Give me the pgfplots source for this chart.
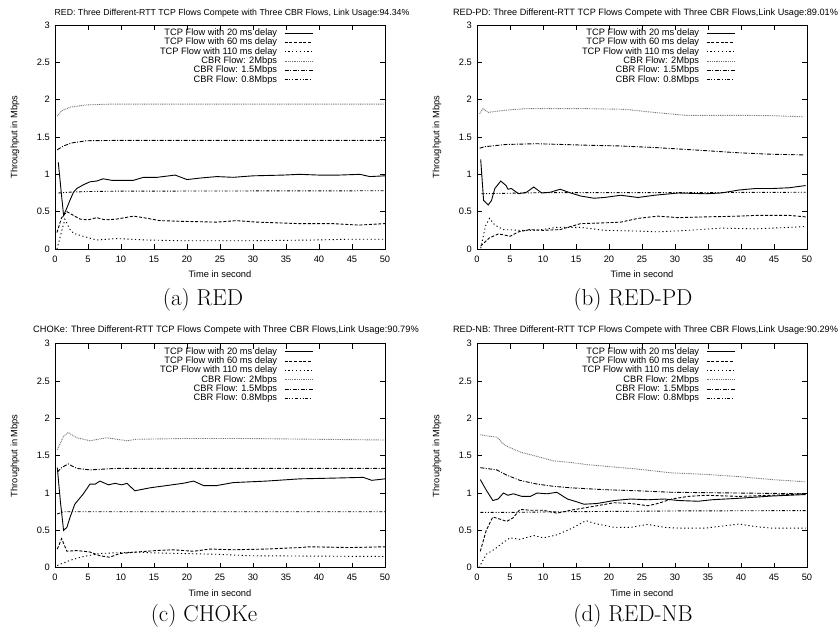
\documentclass[border=0pt]{standalone}
\usepackage{fontspec}
\usepackage{pgfplots}
\pgfplotsset{compat=1.18}
\newfontfamily\arial{Liberation Sans}
\newcommand{\sfz}[1]{\arial\fontsize{#1}{#1}\selectfont}
\pgfplotsset{
  tcpA/.style={black, line width=0.9pt, solid},
  tcpB/.style={black, line width=0.9pt, dash pattern=on 3pt off 1.7pt},
  tcpC/.style={black, line width=0.9pt, dash pattern=on 1.2pt off 2.6pt},
  cbrA/.style={black!55, line width=0.9pt, dash pattern=on 0.9pt off 0.9pt},
  cbrB/.style={black, line width=0.9pt, dash pattern=on 4pt off 1.5pt on 1pt off 1.5pt},
  cbrC/.style={black, line width=0.9pt, dash pattern=on 3pt off 1.8pt on 1pt off 1.8pt on 1pt off 1.8pt},
  panel/.style={
    scale only axis, width=330pt, height=224pt,
    xmin=0, xmax=50, ymin=0, ymax=3,
    xtick={0,5,10,15,20,25,30,35,40,45,50}, ytick={0,0.5,1,1.5,2,2.5,3},
    tick align=inside, tick pos=both, major tick length=5pt,
    axis line style={line width=0.8pt, black}, every tick/.style={line width=0.6pt, black},
    /pgf/number format/assume math mode=true,
    xticklabel={\pgfmathprintnumber{\tick}},
    yticklabel={\pgfmathprintnumber{\tick}},
    ticklabel style={font=\sfz{9.3}, inner sep=0pt},
    yticklabel style={xshift=-5pt},
    xticklabel style={yshift=-6.5pt},
    xlabel={Time in second}, ylabel={Throughput in Mbps},
    every axis x label/.style={at={(axis description cs:0.5,0)}, anchor=center, yshift=-25pt, font=\sfz{9.3}},
    every axis y label/.style={at={(axis description cs:0,0.5)}, anchor=center, xshift=-40pt, rotate=90, font=\sfz{9.3}},
    no markers,
    legend cell align=right, legend plot pos=right,
    legend image code/.code={\draw[##1] (0pt,0pt) -- (28pt,0pt);},
    legend style={at={(0.782,1)}, anchor=north east, yshift=-4pt, draw=none, fill=none,
      inner sep=0pt, outer sep=0pt, font=\sfz{9.3}, row sep=1pt, column sep=7pt,
      nodes={inner sep=0pt, text height=6.6pt, text depth=1.7pt}},
  }
}
\newcommand{\legs}{\legend{TCP Flow with 20 ms delay,TCP Flow with 60 ms delay,TCP Flow with 110 ms delay,CBR Flow: 2Mbps,CBR Flow: 1.5Mbps,CBR Flow: 0.8Mbps}}
\begin{document}
\begin{tikzpicture}
\path[use as bounding box] (0,0) rectangle (839pt,633pt);
% (a) RED
\begin{axis}[panel, at={(55pt,384pt)}, anchor=south west]
\addplot[tcpA] coordinates {(0.5,1.16) (0.9,0.8) (1.3,0.45) (1.8,0.55) (2.3,0.66) (2.8,0.76) (3.3,0.81) (4.3,0.86) (5.3,0.90) (6.3,0.91) (7.3,0.94) (8.6,0.92) (10,0.92) (11.9,0.92) (13.4,0.96) (15.5,0.96) (18.2,0.99) (20,0.93) (22,0.95) (24.5,0.97) (27,0.96) (30,0.98) (34.6,0.99) (37,1.0) (40,0.99) (43,0.99) (46.2,1.00) (47.7,0.97) (50,0.98)};
\addplot[tcpB] coordinates {(0.3,0.22) (1,0.42) (1.8,0.5) (2.8,0.45) (3.8,0.40) (5,0.39) (6.3,0.42) (7.6,0.39) (9.3,0.40) (11.9,0.44) (13.4,0.42) (15.9,0.38) (19.4,0.37) (24.5,0.36) (27.5,0.38) (30.6,0.36) (37,0.34) (42,0.34) (46,0.32) (50,0.34)};
\addplot[tcpC] coordinates {(0.3,0.0) (0.9,0.2) (1.5,0.4) (2.2,0.27) (2.8,0.21) (4.3,0.17) (6.3,0.12) (9.3,0.14) (14,0.12) (19.4,0.11) (29,0.11) (39,0.12) (44,0.13) (50,0.13)};
\addplot[cbrA] coordinates {(0.35,1.78) (1,1.85) (2.3,1.90) (4.8,1.93) (8.3,1.94) (20,1.94) (35,1.94) (50,1.94)};
\addplot[cbrB] coordinates {(0.35,1.33) (1.3,1.38) (2.5,1.42) (4.8,1.45) (10,1.455) (50,1.455)};
\addplot[cbrC] coordinates {(0.5,0.75) (2,0.76) (5,0.77) (10,0.775) (50,0.78)};
\legs
\end{axis}
% (b) RED-PD
\begin{axis}[panel, at={(477pt,384pt)}, anchor=south west]
\addplot[tcpA] coordinates {(0.56,1.2) (1,0.65) (1.7,0.59) (2.2,0.65) (2.7,0.81) (3.6,0.91) (4.4,0.85) (4.7,0.80) (5.2,0.81) (6.3,0.74) (7.5,0.76) (8.6,0.83) (9.8,0.75) (11.1,0.76) (12.6,0.80) (14.2,0.75) (15.7,0.71) (17.7,0.68) (19.3,0.69) (21.8,0.72) (24.4,0.69) (26.9,0.72) (30.5,0.75) (34.6,0.74) (37,0.75) (39.7,0.79) (42.2,0.81) (44.7,0.81) (47.3,0.82) (49.8,0.85)};
\addplot[tcpB] coordinates {(0.56,0.04) (1.9,0.15) (3.2,0.2) (4,0.19) (5,0.17) (6.3,0.23) (8,0.26) (10,0.25) (12.6,0.26) (15.7,0.34) (19.3,0.35) (21.8,0.36) (24.4,0.41) (27.4,0.44) (30.5,0.42) (34.6,0.43) (39.7,0.44) (42.2,0.45) (44.7,0.45) (47.3,0.45) (49.8,0.43)};
\addplot[tcpC] coordinates {(0.56,0.01) (1.3,0.31) (1.9,0.41) (2.7,0.32) (4,0.26) (6.5,0.25) (9,0.25) (12.1,0.29) (15.7,0.29) (19.3,0.25) (24.4,0.24) (27.4,0.23) (32,0.25) (37.1,0.28) (42.2,0.27) (47.3,0.29) (49.8,0.3)};
\addplot[cbrA] coordinates {(0.4,1.81) (0.9,1.88) (1.7,1.83) (4.4,1.86) (7.5,1.88) (16.6,1.88) (22.6,1.87) (26.7,1.83) (31.7,1.79) (40,1.79) (45,1.785) (49.4,1.77)};
\addplot[cbrB] coordinates {(0.4,1.35) (1.2,1.37) (4.4,1.40) (9,1.41) (16.6,1.39) (21.6,1.38) (26.7,1.36) (34.2,1.32) (39.3,1.29) (44.3,1.27) (49.4,1.26)};
\addplot[cbrC] coordinates {(0.66,0.74) (10,0.755) (30,0.755) (49.8,0.76)};
\legs
\end{axis}
% (c) CHOKe
\begin{axis}[panel, at={(55pt,65.3pt)}, anchor=south west]
\addplot[tcpA] coordinates {(0.35,1.34) (0.8,0.9) (1.3,0.50) (1.8,0.54) (2.3,0.68) (3,0.85) (4.3,0.99) (5.3,1.12) (6.1,1.12) (6.8,1.16) (8.1,1.11) (9.1,1.13) (10.1,1.11) (10.9,1.13) (12.1,1.03) (14.4,1.07) (16.9,1.10) (19.4,1.13) (21,1.16) (22.5,1.10) (24.5,1.10) (27,1.14) (32,1.16) (37.1,1.19) (42.2,1.20) (46.7,1.21) (48,1.17) (50,1.19)};
\addplot[tcpB] coordinates {(0.35,0.25) (1,0.39) (1.8,0.22) (3.3,0.23) (5.3,0.21) (6.8,0.16) (8.3,0.14) (9.8,0.19) (12.4,0.21) (15.4,0.23) (17.9,0.24) (21,0.22) (23.5,0.25) (27,0.24) (32,0.25) (37.1,0.27) (38.6,0.28) (44.7,0.27) (50,0.28)};
\addplot[tcpC] coordinates {(0.35,0.03) (2.3,0.10) (4.3,0.15) (6.8,0.19) (9.3,0.2) (12.4,0.21) (14.4,0.2) (19.4,0.19) (24.5,0.18) (29.5,0.16) (39.7,0.155) (50,0.15)};
\addplot[cbrA] coordinates {(0.35,1.58) (1.3,1.76) (2,1.81) (3.3,1.74) (5.3,1.70) (7.8,1.74) (10.9,1.70) (12.4,1.72) (19.4,1.73) (29.5,1.73) (39.7,1.72) (50,1.71)};
\addplot[cbrB] coordinates {(0.35,1.28) (1,1.34) (2,1.39) (3.3,1.33) (5.3,1.31) (9.3,1.33) (20,1.33) (50,1.33)};
\addplot[cbrC] coordinates {(0.35,0.72) (1.3,0.75) (10,0.75) (50,0.75)};
\legs
\end{axis}
% (d) RED-NB
\begin{axis}[panel, at={(477pt,65.3pt)}, anchor=south west]
\addplot[tcpA] coordinates {(0.5,1.18) (1.4,1.04) (2.4,0.9) (3.2,0.92) (4,1.0) (4.7,0.97) (5.5,0.99) (6.8,0.955) (8.1,0.955) (9.1,1.0) (10.6,0.99) (12.1,1.01) (13.7,0.92) (15.2,0.88) (16.2,0.85) (18.2,0.86) (20.8,0.9) (23.3,0.92) (25.9,0.91) (28.4,0.92) (30.5,0.90) (33.5,0.89) (35.6,0.91) (39.7,0.93) (44.7,0.96) (49.8,0.98)};
\addplot[tcpB] coordinates {(0.5,0.22) (1.4,0.5) (2.4,0.68) (3.5,0.65) (4.5,0.62) (5.5,0.67) (6.5,0.78) (8.1,0.77) (10,0.77) (12.1,0.73) (14.2,0.77) (16.2,0.80) (18.2,0.83) (20.8,0.87) (23.3,0.86) (25.9,0.83) (27.4,0.86) (29.5,0.92) (32,0.955) (34.6,0.97) (39.7,0.955) (44.7,0.97) (49.8,0.99)};
\addplot[tcpC] coordinates {(0.3,0.0) (1.4,0.18) (2.7,0.25) (4,0.34) (5,0.40) (6.5,0.38) (8.6,0.43) (10.1,0.40) (12.1,0.44) (14.2,0.52) (16.5,0.63) (18.2,0.585) (20.8,0.54) (23.3,0.54) (25.9,0.58) (28.4,0.54) (30.5,0.53) (34.6,0.53) (39.7,0.585) (42.2,0.55) (44.7,0.53) (49.8,0.53)};
\addplot[cbrA] coordinates {(0.5,1.78) (1.9,1.76) (3,1.75) (4.2,1.64) (6.5,1.55) (9.1,1.49) (11.6,1.43) (14.2,1.41) (16.7,1.38) (19.3,1.36) (24.4,1.32) (29.5,1.27) (34.6,1.25) (39.7,1.22) (44.7,1.18) (49.8,1.15)};
\addplot[cbrB] coordinates {(0.5,1.34) (3,1.31) (4.5,1.24) (6.5,1.17) (9.1,1.12) (11.6,1.09) (14.2,1.07) (19.3,1.045) (24.4,1.03) (29.5,1.01) (39.7,1.0) (49.8,0.99)};
\addplot[cbrC] coordinates {(0.5,0.74) (4,0.74) (14.2,0.75) (30,0.76) (49.8,0.765)};
\legs
\end{axis}
% titles
\node[font=\sfz{8.75}] at (232pt,620pt) {RED: Three Different-RTT TCP Flows Compete with Three CBR Flows, Link Usage:94.34\%};
\node[font=\sfz{9.17}] at (645.5pt,620pt) {RED-PD: Three Different-RTT TCP Flows Compete with Three CBR Flows,Link Usage:89.01\%};
\node[font=\sfz{9.25}] at (226pt,303pt) {CHOKe: Three Different-RTT TCP Flows Compete with Three CBR Flows,Link Usage:90.79\%};
\node[font=\sfz{9.17}] at (645.5pt,303pt) {RED-NB: Three Different-RTT TCP Flows Compete with Three CBR Flows,Link Usage:90.29\%};
% captions
\node[font=\fontsize{23}{27}\selectfont] at (203pt,333pt) {(a) RED};
\node[font=\fontsize{23}{27}\selectfont] at (633pt,333pt) {(b) RED-PD};
\node[font=\fontsize{23}{27}\selectfont] at (204pt,17pt) {(c) CHOKe};
\node[font=\fontsize{23}{27}\selectfont] at (633pt,17pt) {(d) RED-NB};
\end{tikzpicture}
\end{document}
